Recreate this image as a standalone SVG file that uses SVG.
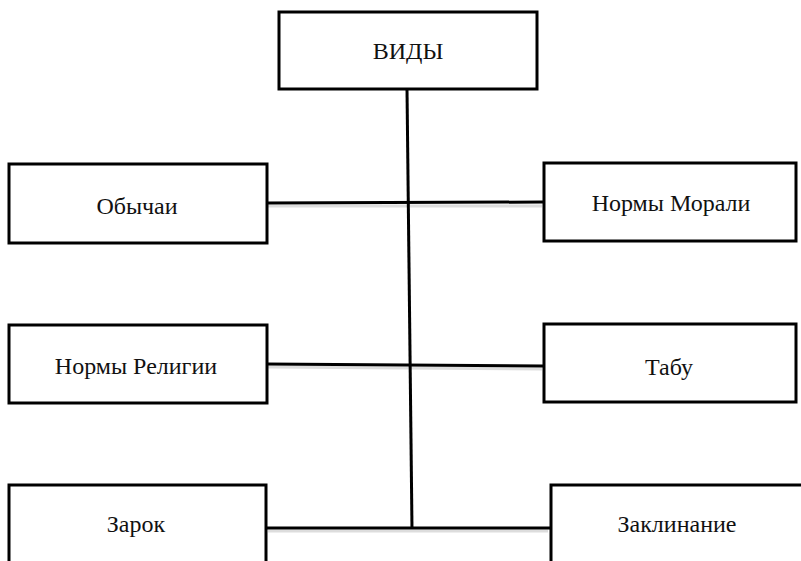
<svg xmlns="http://www.w3.org/2000/svg" width="801" height="561" viewBox="0 0 801 561">
<style>
.box{fill:#fff;stroke:#000;stroke-width:3}
.ln{stroke:#000;stroke-width:3;fill:none}
.sh{stroke:#ddd;stroke-width:3;fill:none}
</style>
<rect width="801" height="561" fill="#fff"/>
<g id="connectors">
<line class="sh" x1="268" y1="206" x2="542" y2="206"/>
<line class="sh" x1="268" y1="367" x2="542" y2="369"/>
<line class="sh" x1="268" y1="531" x2="548" y2="531"/>
<line class="ln" x1="407" y1="89" x2="412" y2="529"/>
<line class="ln" x1="266" y1="203" x2="543" y2="202"/>
<line class="ln" x1="266" y1="364" x2="543" y2="366"/>
<line class="ln" x1="266" y1="528" x2="551" y2="528"/>
</g>
<g font-family="Liberation Serif, DejaVu Serif, serif" font-size="24" fill="#111" text-anchor="middle">
<g id="n-vidy"><rect class="box" x="279" y="12" width="258" height="77"/><text x="408" y="59">ВИДЫ</text></g>
<g id="n-obychai"><rect class="box" x="9" y="164" width="258" height="79"/><text x="137" y="214">Обычаи</text></g>
<g id="n-morali"><rect class="box" x="544" y="163" width="252" height="78"/><text x="671" y="211">Нормы Морали</text></g>
<g id="n-religii"><rect class="box" x="9" y="325" width="258" height="78"/><text x="136" y="374">Нормы Религии</text></g>
<g id="n-tabu"><rect class="box" x="544" y="324" width="252" height="78"/><text x="669" y="375">Табу</text></g>
<g id="n-zarok"><rect class="box" x="9" y="485" width="257" height="90"/><text x="136" y="532">Зарок</text></g>
<g id="n-zaklinanie"><rect class="box" x="551" y="485" width="260" height="90"/><text x="677" y="532">Заклинание</text></g>
</g>
</svg>
